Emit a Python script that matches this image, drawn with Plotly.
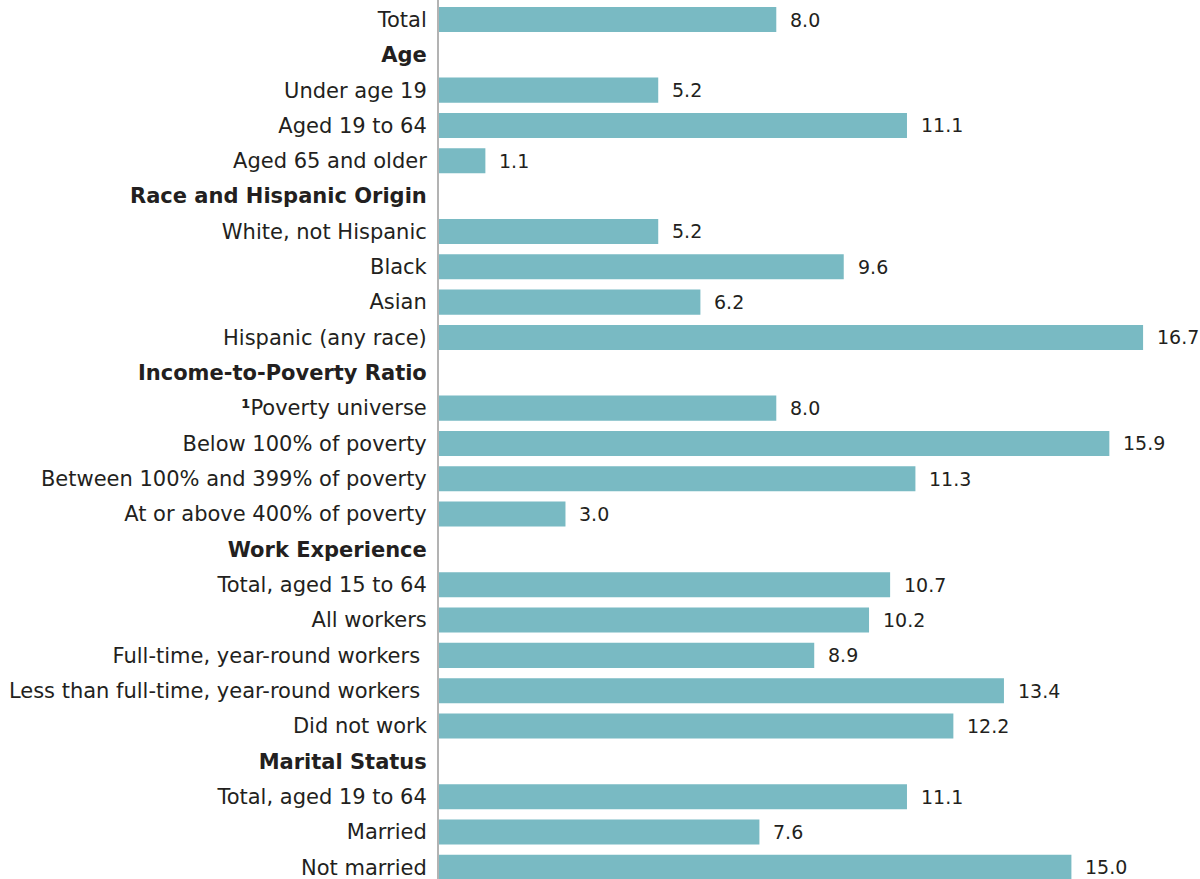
import plotly.graph_objects as go

categories = [
    "Total", "<b>Age</b>", "Under age 19", "Aged 19 to 64", "Aged 65 and older",
    "<b>Race and Hispanic Origin</b>", "White, not Hispanic", "Black", "Asian",
    "Hispanic (any race)", "<b>Income-to-Poverty Ratio</b>", "<b>¹</b>Poverty universe",
    "Below 100% of poverty", "Between 100% and 399% of poverty",
    "At or above 400% of poverty", "<b>Work Experience</b>", "Total, aged 15 to 64",
    "All workers", "Full-time, year-round workers\u00a0",
    "Less than full-time, year-round workers\u00a0", "Did not work",
    "<b>Marital Status</b>", "Total, aged 19 to 64", "Married", "Not married",
]
values = [
    8.0, None, 5.2, 11.1, 1.1,
    None, 5.2, 9.6, 6.2, 16.7,
    None, 8.0, 15.9, 11.3, 3.0,
    None, 10.7, 10.2, 8.9, 13.4, 12.2,
    None, 11.1, 7.6, 15.0,
]

FONT = "DejaVu Sans"
TXT = "#231f20"

fig = go.Figure(go.Bar(
    x=values, y=categories, orientation="h",
    marker=dict(color="#79bac3", line=dict(width=0)),
    hoverinfo="skip",
))

annotations = []
for c, v in zip(categories, values):
    if v is None:
        continue
    annotations.append(dict(
        x=v, y=c, xref="x", yref="y", text=f"{v:.1f}", showarrow=False,
        xanchor="left", xshift=12, font=dict(family=FONT, size=19, color=TXT),
    ))

fig.update_layout(
    width=1200, height=879,
    margin=dict(l=439, r=0, t=0, b=0),
    paper_bgcolor="white", plot_bgcolor="white",
    bargap=0.29, showlegend=False,
    annotations=annotations,
    xaxis=dict(range=[0, 18.05], visible=False, fixedrange=True),
    yaxis=dict(
        type="category", range=[24.33, -0.552], fixedrange=True,
        showline=True, linecolor="#b3b3b3", linewidth=2,
        showgrid=False, ticks="", ticklabelstandoff=6,
        tickfont=dict(family=FONT, size=21, color=TXT),
    ),
)

fig.write_html(
    "out.html",
    config={"displayModeBar": False},
    post_script="document.body.style.margin='0px';document.body.style.overflow='hidden';",
)
